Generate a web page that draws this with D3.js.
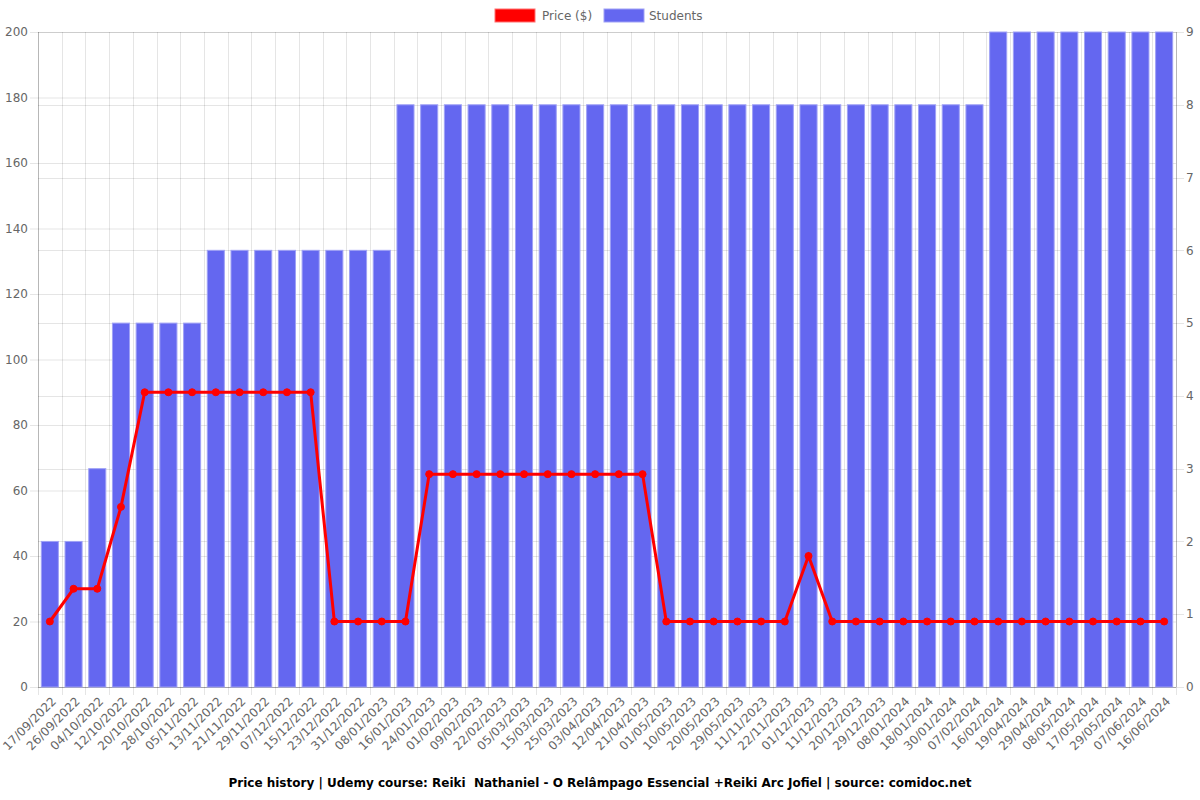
<!DOCTYPE html>
<html>
<head>
<meta charset="utf-8">
<script src="https://cdn.jsdelivr.net/npm/d3@7"></script>
<style>
  body { margin: 0; background: #fff; }
  text { font-family: "DejaVu Sans", sans-serif; }
</style>
</head>
<body>
<svg id="chart"></svg>
<script>
// data
var dates = ['17/09/2022','26/09/2022','04/10/2022','12/10/2022','20/10/2022','28/10/2022','05/11/2022','13/11/2022',
  '21/11/2022','29/11/2022','07/12/2022','15/12/2022','23/12/2022','31/12/2022','08/01/2023','16/01/2023',
  '24/01/2023','01/02/2023','09/02/2023','22/02/2023','05/03/2023','15/03/2023','25/03/2023','03/04/2023',
  '12/04/2023','21/04/2023','01/05/2023','10/05/2023','20/05/2023','29/05/2023','11/11/2023','22/11/2023',
  '01/12/2023','11/12/2023','20/12/2023','29/12/2023','08/01/2024','18/01/2024','30/01/2024','07/02/2024',
  '16/02/2024','19/04/2024','29/04/2024','08/05/2024','17/05/2024','29/05/2024','07/06/2024','16/06/2024'];
var price = [20,30,30,55,90,90,90,90,90,90,90,90,20,20,20,20,
  65,65,65,65,65,65,65,65,65,65,20,20,20,20,20,20,
  40,20,20,20,20,20,20,20,20,20,20,20,20,20,20,20];
var students = [2,2,3,5,5,5,5,6,6,6,6,6,6,6,6,8,
  8,8,8,8,8,8,8,8,8,8,8,8,8,8,8,8,
  8,8,8,8,8,8,8,8,9,9,9,9,9,9,9,9];
var priceTicks = [0,20,40,60,80,100,120,140,160,180,200];
var studentTicks = [0,1,2,3,4,5,6,7,8,9];
var title = 'Price history | Udemy course: Reiki  Nathaniel - O Relâmpago Essencial +Reiki Arc Jofiel | source: comidoc.net';

var width = 1200, height = 800;
var padding = {top: 32, right: 24, bottom: 113, left: 38};
var gridColor = 'rgba(0,0,0,0.1)';
var barColor = '#6467f0';

var svg = d3.select('#chart').attr('width', width).attr('height', height);

var xScale = d3.scaleBand()
  .domain(dates)
  .range([padding.left, width - padding.right]);

var yLeft = d3.scaleLinear().domain([0, 200]).range([height - padding.bottom, padding.top]);
var yRight = d3.scaleLinear().domain([0, 9]).range([height - padding.bottom, padding.top]);

var x0 = padding.left, x1 = width - padding.right;
var yBottom = height - padding.bottom;

// horizontal grid, both axes
svg.append('g').selectAll('line')
  .data(priceTicks).enter().append('line')
    .attr('x1', x0 - 8).attr('x2', x1)
    .attr('y1', d => yLeft(d) + 0.5).attr('y2', d => yLeft(d) + 0.5)
    .style('stroke', gridColor);
svg.append('g').selectAll('line')
  .data(studentTicks).enter().append('line')
    .attr('x1', x0).attr('x2', x1 + 8)
    .attr('y1', d => Math.round(yRight(d)) + 0.5).attr('y2', d => Math.round(yRight(d)) + 0.5)
    .style('stroke', gridColor);

// vertical grid at category edges
var edges = dates.map(d => xScale(d)).concat([x1]);
svg.append('g').selectAll('line')
  .data(edges).enter().append('line')
    .attr('x1', d => Math.round(d) + 0.5).attr('x2', d => Math.round(d) + 0.5)
    .attr('y1', padding.top).attr('y2', yBottom + 8)
    .style('stroke', gridColor);

// axis borders
svg.append('line').attr('x1', x0 + 0.5).attr('x2', x0 + 0.5).attr('y1', padding.top).attr('y2', yBottom)
  .style('stroke', 'rgba(0,0,0,0.2)');
svg.append('line').attr('x1', x1 + 0.5).attr('x2', x1 + 0.5).attr('y1', padding.top).attr('y2', yBottom)
  .style('stroke', 'rgba(0,0,0,0.2)');
svg.append('line').attr('x1', x0).attr('x2', x1).attr('y1', yBottom + 0.5).attr('y2', yBottom + 0.5)
  .style('stroke', 'rgba(0,0,0,0.2)');

// bars
var bw = xScale.bandwidth() * 0.72;
svg.append('g').selectAll('rect')
  .data(students).enter().append('rect')
    .attr('x', (d, i) => xScale(dates[i]) + (xScale.bandwidth() - bw) / 2)
    .attr('y', d => yRight(d))
    .attr('width', bw)
    .attr('height', d => yBottom - yRight(d))
    .style('fill', barColor)
    .style('stroke', '#9fa1f6')
    .style('stroke-width', 1);

// price line
var cx = i => xScale(dates[i]) + xScale.bandwidth() / 2;
var line = d3.line().x((d, i) => cx(i)).y(d => yLeft(d));
svg.append('path')
  .datum(price)
  .attr('d', line)
  .style('fill', 'none')
  .style('stroke', '#ff0000')
  .style('stroke-width', 3);
svg.append('g').selectAll('circle')
  .data(price).enter().append('circle')
    .attr('cx', (d, i) => cx(i))
    .attr('cy', d => yLeft(d))
    .attr('r', 3.5)
    .style('fill', '#ff0000')
    .style('stroke', '#ff0000');

// left tick labels
svg.append('g').selectAll('text')
  .data(priceTicks).enter().append('text')
    .attr('x', x0 - 10).attr('y', d => yLeft(d))
    .attr('dy', '0.35em')
    .attr('text-anchor', 'end')
    .style('font-size', '12px').style('fill', '#666')
    .text(d => d);

// right tick labels
svg.append('g').selectAll('text')
  .data(studentTicks).enter().append('text')
    .attr('x', x1 + 10).attr('y', d => yRight(d))
    .attr('dy', '0.35em')
    .attr('text-anchor', 'start')
    .style('font-size', '12px').style('fill', '#666')
    .text(d => d);

// x labels
svg.append('g').selectAll('text')
  .data(dates).enter().append('text')
    .attr('transform', d => 'translate(' + (xScale(d) + xScale.bandwidth() / 2 + 4) + ',' + (yBottom + 12) + ') rotate(-45)')
    .attr('text-anchor', 'end')
    .attr('dy', '0.35em')
    .style('font-size', '12px').style('fill', '#666')
    .text(d => d);

// legend
var legend = svg.append('g');
legend.append('rect').attr('x', 495).attr('y', 9).attr('width', 40).attr('height', 13)
  .style('fill', '#ff0000').style('stroke', '#ff7070');
legend.append('text').attr('x', 542).attr('y', 16).attr('dy', '0.35em')
  .style('font-size', '12px').style('fill', '#666').text('Price ($)');
legend.append('rect').attr('x', 604).attr('y', 9).attr('width', 40).attr('height', 13)
  .style('fill', barColor).style('stroke', '#9fa1f6');
legend.append('text').attr('x', 649).attr('y', 16).attr('dy', '0.35em')
  .style('font-size', '12px').style('fill', '#666').text('Students');

// title
svg.append('text')
  .attr('x', width / 2).attr('y', 783)
  .attr('dy', '0.35em')
  .attr('text-anchor', 'middle')
  .style('font-size', '12px').style('font-weight', 'bold').style('fill', '#000')
  .style('white-space', 'pre')
  .text(title);
</script>
</body>
</html>
